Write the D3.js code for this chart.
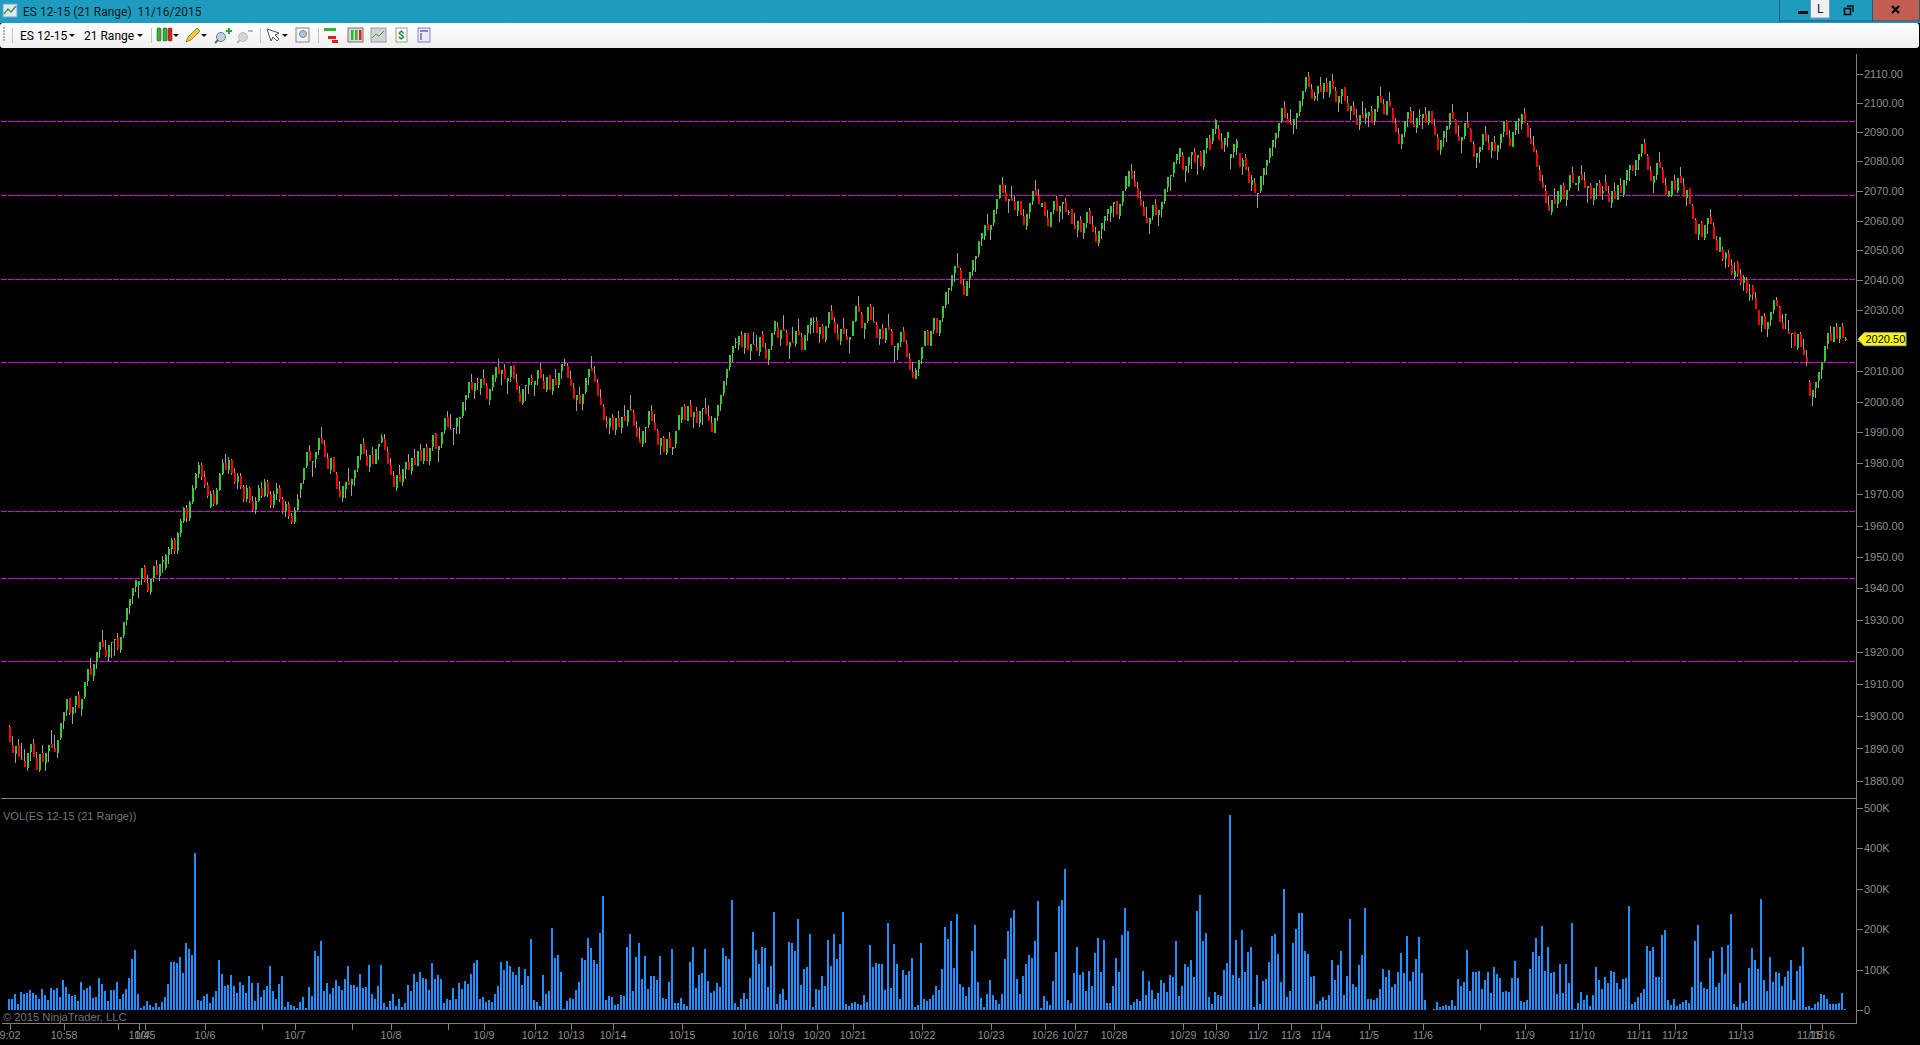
<!DOCTYPE html>
<html><head><meta charset="utf-8"><title>ES 12-15 (21 Range)</title>
<script src="https://cdn.jsdelivr.net/npm/d3@7/dist/d3.min.js"></script>
<style>html,body{margin:0;padding:0;background:#000;overflow:hidden}svg{display:block}text{white-space:pre}</style>
</head><body><svg id="c" width="1920" height="1045"></svg>
<script>
const priceTicks=[2110,2100,2090,2080,2070,2060,2050,2040,2030,2020,2010,2000,1990,1980,1970,1960,1950,1940,1930,1920,1910,1900,1890,1880];
const volTicks=[0,100,200,300,400,500];
const levels=[2093.7,2068.5,2040.4,2012.9,1964.7,1943.2,1917.1];
const lastPrice=2020.5;
const dateTickBars=[0,18,36,43,45,65,84,95,114,127,146,158,175,187,201,224,245,257,269,281,304,327,345,355,368,391,402,416,427,437,453,471,490,505,524,543,555,577,600,604];
const dateTickLabels=["9:02","10:58","","10/4","10/5","10/6","","10/7","","10/8","","10/9","10/12","10/13","10/14","10/15","10/16","10/19","10/20","10/21","10/22","10/23","10/26","10/27","10/28","10/29","10/30","11/2","11/3","11/4","11/5","11/6","","11/9","11/10","11/11","11/12","11/13","11/15","11/16"];
const open=[
1896.6,1891.2,1888.2,1891,1886.9,1886,1884.1,1888.8,1891.3,1887.2,
1883.5,1888.5,1885.4,1889.1,1891.3,1890,1888.5,1893.2,1898.5,1901.9,
1905.6,1900.6,1903.4,1906.6,1902.2,1905.9,1910.9,1915,1912.5,1916.9,
1920.6,1923.4,1920.9,1918.4,1922.8,1923.7,1924.4,1920.6,1925.3,1930,
1934.3,1937.5,1940.3,1941.2,1943.1,1946.8,1941.8,1939,1943.4,1947.4,
1944,1948.4,1946.5,1950.5,1952.5,1955.5,1952,1957.5,1961.5,1965.5,
1962.5,1967.5,1972,1976.5,1979.5,1975.5,1973,1966,1970,1967,
1971.5,1976.5,1980,1978,1981,1977,1974,1976,1972.5,1968.5,
1972,1968,1965,1968,1972,1969.5,1974,1970,1966.5,1970,
1972,1968.5,1964.5,1967,1963,1961,1965,1971.7,1974.6,1979.1,
1984,1980.5,1981.4,1984.3,1988.2,1985.9,1981.7,1977.8,1982,1976.5,
1971.4,1968.8,1971.7,1974.3,1973,1975.2,1978.5,1982.7,1986.6,1982.4,
1978.8,1982.7,1979.8,1985.3,1986.9,1987.9,1983.7,1979.4,1975.9,1972,
1976.5,1974,1978.2,1980.4,1977.5,1981.7,1979.1,1984.3,1980.7,1985.3,
1980.7,1985.3,1989.5,1984.3,1986.2,1990.8,1995,1991.1,1991.1,1991.7,
1994.3,1995.3,2000.5,2002.7,2006.3,2003.4,2006.3,2004.4,2007.6,2005,
2000.5,2004.7,2007.6,2011.5,2008.9,2010.8,2006.9,2008.2,2012.1,2006.6,
2003,1999.5,2005,2005.3,2007.9,2005.6,2007.3,2010.8,2006.9,2003.7,
2008.6,2003.4,2007.6,2005.6,2010.2,2012.4,2011.8,2007.3,2004.4,2000.5,
2002.1,1999.2,2003.1,2008.2,2011.1,2009.2,2006,2001.1,1998.2,1993.4,
1991.7,1995,1990.8,1994.7,1991.4,1995.3,1993.4,1997.6,1996.3,1991.4,
1987.9,1986.2,1991.4,1992.4,1996.9,1993,1990.4,1985.6,1988.2,1983.3,
1988.2,1984.6,1986.2,1990.8,1994,1998.5,1993.7,1998.9,1995,1996.9,
1993,1997.6,1997.9,1995.3,1993,1989.8,1995.3,1999.2,2002.7,2007.6,
2011.5,2016,2019.2,2018.6,2021.8,2017.6,2022.4,2016.6,2018.9,2017.9,
2016.3,2022.1,2017.3,2013.7,2018.1,2023.1,2024.5,2020.5,2023.8,2022.5,
2017.8,2019.8,2018.8,2023.1,2021.1,2016.8,2022.5,2025.1,2026.1,2026.5,
2022.1,2024.8,2020.1,2025.5,2029.8,2026.1,2022.1,2019.8,2024.1,2021.5,
2020.1,2021.5,2026.5,2031.4,2028.8,2023.8,2026.5,2031.4,2026.5,2025.1,
2020.5,2024.1,2020.1,2024.5,2023.1,2017.8,2017.1,2019.5,2023.1,2018.8,
2014.1,2009.8,2007.5,2010.8,2014.1,2018.1,2023.1,2018.1,2023.5,2027.5,
2022.5,2027.5,2031.8,2036.8,2038.1,2042.4,2044.8,2043.4,2038.1,2034.8,
2040.4,2043.1,2047.1,2048.8,2053.8,2054.8,2058.8,2056.8,2059.1,2063.8,
2067.7,2072.4,2069.1,2066.4,2067.7,2066.1,2063.1,2066.7,2061.4,2058.1,
2062.8,2066.4,2070.4,2068.1,2064.4,2066.1,2060.8,2057.8,2063.4,2067.1,
2062.8,2065.4,2066.4,2062.4,2063.8,2058.4,2056.8,2060.1,2055.8,2059.1,
2063.1,2058.4,2055.4,2052.4,2057.1,2059.8,2062.1,2062.4,2065.4,2066.4,
2061.4,2066.1,2070.7,2071.7,2076.7,2073.4,2071.1,2067.1,2064.4,2060.8,
2058.8,2061.4,2065.4,2061.8,2063.8,2066.7,2071.4,2075.1,2076.1,2080.4,
2081.5,2082,2076.7,2078.7,2082,2083,2081,2083,2078,2084.5,
2088,2087,2091,2091,2087,2085.5,2088,2081,2083,2084.5,
2082.7,2077.9,2081,2076.6,2072.1,2072.8,2069.1,2069.8,2075.2,2078.3,
2081,2084.7,2087.5,2090.2,2093.6,2098.4,2094.5,2093.1,2092.2,2094.6,
2096.7,2101.4,2104.8,2109.3,2104.8,2101.1,2102.8,2105.8,2103.5,2106.9,
2103.1,2107.5,2104.1,2099.7,2102.4,2105.2,2099.7,2097,2099,2094.9,
2092.2,2096,2094.9,2095.3,2097,2093.6,2098,2102.1,2099.4,2095.6,
2100.7,2097.7,2092.6,2089.2,2085.8,2089.8,2094.3,2097,2092.6,2091.2,
2095.3,2094.9,2096.3,2092.9,2097.3,2091.9,2088.1,2083.7,2087.8,2090.5,
2092.2,2096.7,2093.9,2088.5,2086.8,2088.5,2093.2,2090.9,2085.8,2081,
2083,2085.4,2089.5,2086.1,2083.4,2086.4,2083,2086.1,2089.8,2093.6,
2088.1,2084.7,2090.5,2093.6,2092.6,2096.3,2092.2,2087.5,2085.4,2082.7,
2077.2,2072.8,2070.1,2065.3,2062.9,2067.4,2065.7,2067,2072.1,2067,
2071.1,2075.9,2071.8,2072.5,2075.2,2073.2,2070.8,2071.8,2067,2071.5,
2072.8,2069.1,2072.5,2069.4,2066,2070.1,2067,2072.1,2068.7,2073.8,
2077.2,2078.9,2076.9,2080.6,2082.7,2086.1,2081.7,2076.6,2072.8,2075.2,
2079.6,2076.9,2072.1,2068.4,2068.7,2073.5,2070.1,2074.9,2071.8,2067.7,
2070.8,2065,2060.1,2055.1,2059.1,2054.1,2058.8,2061.1,2058.1,2053.4,
2049.4,2050,2047,2049,2045,2041,2046,2042,2039,2040,
2034.5,2038,2034,2030.2,2025.3,2028.3,2024,2027,2030.2,2033.5,
2031.2,2025.7,2028.6,2023,2022.1,2023,2017.5,2022.1,2017.2,2014.6,
2006.4,2001.5,2004.4,2006.7,2010.3,2013.3,2018.8,2022.7,2019.5,2024.4,
2020.4,2024.7,2020.25];
const high=[
1897.2,1893.8,1890.7,1892.8,1891.6,1889.7,1888.5,1891.3,1892.8,1888.8,
1888.2,1891,1888.5,1891,1895.6,1894.1,1892.5,1897.8,1901.3,1905.3,
1905.6,1902.8,1906.3,1907.8,1905.3,1910.6,1914.7,1918.1,1916.2,1920,
1923.1,1926.8,1923.7,1922.2,1923.1,1924,1925.9,1924.7,1929.3,1933.7,
1936.8,1940,1942.8,1942.4,1946.5,1947.4,1944.3,1943.1,1947.1,1949,
1947.8,1950.2,1951,1953,1956,1956,1958,1962,1966,1966.5,
1968,1973,1977,1980.5,1980,1977.5,1974,1971,1971.5,1972,
1977,1981.5,1983,1982,1981.5,1978.5,1977,1977,1973,1973,
1972.5,1969.5,1969,1973,1974,1975,1974.5,1971,1971,1973.5,
1973,1969,1968,1967.5,1964,1966,1970,1973.8,1978.5,1983.7,
1985.9,1980.7,1983.7,1988.2,1991.7,1987.5,1983.3,1981.7,1982,1977.2,
1974.3,1972.7,1974,1978.5,1974.9,1977.8,1982.4,1986.2,1988.2,1984.3,
1982.7,1985.3,1984.6,1986.2,1989.5,1989.5,1985.3,1981.7,1977.5,1976.2,
1979.4,1978.2,1980.4,1983,1981.7,1984.6,1984,1986.2,1984.9,1986.2,
1984.9,1989.2,1989.8,1985.6,1990.1,1994.7,1996.9,1995.9,1991.4,1994.7,
1995,1999.8,2002.1,2006.3,2008.9,2006,2007.6,2007.3,2010.8,2006,
2004,2008.6,2011.5,2014,2010.5,2012.4,2007.6,2011.8,2012.1,2008.9,
2005,2004,2005.3,2007.6,2008.6,2006.9,2010.5,2012.8,2009.2,2008.2,
2008.6,2007.3,2010.8,2009.5,2012.4,2014,2012.8,2010.2,2006,2002.1,
2004.7,2002.4,2007.6,2010.8,2015,2011.8,2007.3,2004,1999.2,1995.3,
1994.7,1995.9,1994.7,1996.9,1995,1998.9,1997.2,2002.1,1997.2,1993.7,
1991.7,1990.4,1991.7,1996.9,1998.9,1995.9,1991.1,1988.2,1988.8,1987.9,
1990.1,1985.3,1990.4,1995.6,1998.2,1999.2,1998.5,2000.5,1996.6,1998.2,
1996.9,1997.9,2001.1,1998.9,1995.3,1994.7,1998.9,2002.1,2006.9,2010.8,
2015.3,2018.3,2021,2021.5,2023.1,2022.5,2022.4,2018.9,2022.9,2021.8,
2021.3,2023.1,2019.2,2017.3,2022.5,2026.5,2026.1,2023.5,2028.5,2023.5,
2019.5,2024.5,2023.1,2027.1,2022.5,2021.8,2025.1,2027.5,2027.8,2027.8,
2024.5,2025.5,2024.8,2029.4,2031.8,2027.8,2025.5,2023.8,2027.5,2023.8,
2021.1,2026.5,2031.4,2034.8,2029.5,2025.8,2031.1,2032.1,2031.1,2026.1,
2023.8,2025.5,2024.1,2028.8,2023.8,2018.1,2019.1,2022.8,2024.5,2020.1,
2015.8,2013.1,2011.1,2013.8,2017.8,2023.1,2023.5,2023.1,2027.5,2027.5,
2026.8,2031.4,2036.1,2037.4,2041.8,2044.8,2049.1,2044.1,2040.4,2039.8,
2042.8,2046.8,2048.1,2053.1,2055.8,2058.4,2062.1,2058.4,2063.4,2067.1,
2072.1,2074.7,2072.1,2067.4,2071.7,2068.4,2066.4,2066.7,2063.8,2062.1,
2065.8,2070.1,2073.7,2070.7,2065.8,2066.1,2063.4,2062.8,2066.7,2068.4,
2064.8,2066.1,2067.7,2063.4,2063.8,2062.4,2059.8,2061.4,2059.1,2062.8,
2064.1,2061.4,2057.8,2056.4,2059.1,2061.4,2063.8,2064.8,2066.1,2066.4,
2065.4,2070.1,2075.1,2076.7,2079.1,2076.7,2073.1,2070.1,2066.4,2064.4,
2060.8,2065.1,2067.1,2063.4,2066.1,2070.7,2074.7,2075.4,2079.7,2082.6,
2084.5,2083,2078.4,2081.5,2083,2084.6,2082,2083.6,2084,2088,
2089,2091,2094.5,2092.5,2089.5,2088,2090,2082.6,2086,2087.5,
2082.7,2081,2082.4,2077.9,2075.2,2074.2,2069.4,2074.9,2077.6,2080.6,
2084.4,2087.1,2089.5,2092.9,2098,2100.4,2096.3,2097.7,2094.3,2096.3,
2100.7,2104.1,2108.9,2110.6,2106.5,2103.8,2105.8,2108.9,2106.9,2108.6,
2107.5,2109.9,2105.2,2102.1,2104.8,2105.2,2102.4,2098.7,2100.7,2097.7,
2095.6,2100.4,2098,2096.7,2098.7,2097.7,2102.1,2105.2,2101.1,2100.4,
2103.5,2098,2094.9,2091.2,2089.2,2093.6,2096.7,2098.4,2097,2094.6,
2097.7,2096,2098.4,2097,2097.3,2094.3,2089.2,2087.1,2090.2,2091.9,
2096.3,2099.4,2094.3,2092.2,2088.1,2092.9,2096.7,2091.2,2086.8,2082.7,
2084.7,2089.2,2091.9,2088.8,2086.4,2088.5,2085.4,2089.2,2093.6,2093.9,
2090.5,2089.8,2093.6,2094.6,2096,2098,2093.2,2091.2,2088.5,2083.7,
2078.6,2075.5,2071.8,2068.4,2067,2071.1,2069.8,2071.8,2072.5,2070.4,
2075.5,2077.9,2072.5,2074.9,2078.9,2076.2,2071.5,2072.5,2070.8,2072.8,
2073.8,2071.5,2075.2,2071.5,2069.8,2072.5,2071.8,2074.2,2073.5,2076.9,
2078.6,2078.9,2080.3,2082.4,2085.8,2087.5,2082.4,2078.3,2074.9,2079.3,
2083,2077.9,2074.5,2070.1,2073.2,2075.5,2074.5,2077.9,2074.5,2070.4,
2070.8,2065.7,2060.8,2058.8,2059.8,2058.5,2060.8,2063.8,2059.1,2054.8,
2054.4,2051,2049.5,2050,2047,2046,2046.5,2043.7,2041.7,2041,
2038.7,2038.5,2036,2030.2,2028.3,2029.3,2026.3,2029.6,2033.5,2034.6,
2031.5,2028.9,2028.9,2027,2022.7,2023,2022.1,2023,2020.4,2016.9,
2007.1,2003.8,2006.4,2009.7,2012.9,2018.2,2022.4,2025,2024.4,2025.7,
2024.4,2026,2021.1];
const low=[
1892,1888.5,1885.4,1887.5,1886.3,1884.4,1883.2,1886,1887.5,1883.5,
1882.9,1885.7,1883.2,1885.7,1890.3,1888.8,1887.2,1892.5,1896,1900,
1900.3,1897.5,1901,1902.5,1900,1905.3,1909.4,1912.8,1910.9,1914.7,
1918.1,1921.5,1918.4,1917.2,1918.1,1918.7,1920.6,1919.7,1924.4,1928.4,
1931.8,1935,1939,1937.1,1941.2,1942.1,1939,1937.8,1942.1,1944.3,
1942.4,1944.9,1945.8,1947.8,1951,1951,1951,1956.5,1960.7,1961.2,
1961.5,1967,1971.5,1975.2,1974.7,1972.2,1968.7,1965.7,1966.2,1966.7,
1971,1976.2,1977.7,1976.7,1976.2,1973.2,1971.7,1971.7,1967.7,1967.7,
1967.2,1964.2,1963.7,1967.7,1968.7,1969.2,1969.2,1965.7,1965.7,1968.2,
1967.7,1963.7,1962.7,1962.2,1960.5,1960.5,1964.5,1968.8,1973.3,1978.5,
1980.7,1975.6,1978.5,1982.7,1986.2,1982,1978.2,1976.5,1977.2,1971.7,
1969.1,1967.5,1968.8,1973,1969.4,1972.7,1977.2,1981,1983,1979.1,
1977.2,1979.8,1979.8,1981,1986.6,1984.3,1979.8,1976.2,1972.3,1971,
1974,1972.7,1974.9,1977.8,1976.2,1979.4,1979.1,1980.7,1979.8,1980.7,
1979.4,1984,1984.6,1980.4,1985,1989.5,1991.7,1990.8,1985.9,1989.5,
1989.5,1994.7,1996.9,2001.1,2003.7,2000.8,2003.7,2002.1,2005.6,2000.8,
1998.9,2003.4,2006.3,2008.9,2005.3,2007.3,2002.4,2006.6,2007.3,2003.7,
1999.8,1998.9,2000.1,2002.4,2005.6,2001.8,2005.3,2007.6,2004,2003.1,
2003.7,2002.1,2005.6,2004.4,2007.3,2011.8,2007.6,2005,2000.8,1996.9,
1999.2,1997.2,2002.4,2005.6,2009.9,2006.6,2001.8,1998.9,1994,1991.4,
1989.5,1990.8,1989.2,1991.7,1989.8,1993.7,1992,1996.9,1992,1988.5,
1986.6,1985.3,1986.6,1991.4,1993.7,1990.8,1985.9,1982.7,1983.7,1982.7,
1984.9,1982.7,1984.9,1990.8,1993,1994,1993.7,1995,1991.4,1993,
1991.7,1992.4,1996,1993.7,1990.1,1989.8,1993.7,1996.9,2001.8,2005.6,
2010.2,2013.1,2017.6,2017,2017.9,2015.7,2017,2013.7,2018.6,2016.6,
2015,2017.9,2014,2012.1,2017.1,2021.8,2020.8,2018.1,2023.1,2018.1,
2014.1,2019.1,2017.8,2021.8,2017.1,2016.8,2019.8,2022.1,2022.5,2022.5,
2019.1,2020.5,2019.5,2024.1,2026.8,2022.5,2020.1,2018.5,2022.1,2020.1,
2015.8,2021.5,2026.1,2029.5,2024.1,2020.5,2025.8,2026.8,2025.8,2020.8,
2018.5,2020.5,2019.1,2023.5,2018.5,2013.1,2013.8,2017.8,2019.5,2014.8,
2010.5,2007.8,2007.5,2008.5,2012.5,2018.1,2018.5,2018.1,2022.1,2022.5,
2021.5,2026.1,2030.8,2032.1,2036.4,2039.4,2044.1,2038.8,2035.1,2034.8,
2037.4,2041.4,2042.8,2047.8,2051.4,2053.4,2056.8,2053.4,2058.1,2062.1,
2067.1,2069.4,2066.7,2062.4,2066.4,2063.4,2061.4,2061.8,2058.4,2056.8,
2060.4,2065.1,2068.4,2065.4,2064.4,2061.4,2058.1,2057.8,2062.1,2063.1,
2059.4,2060.4,2062.8,2061.8,2058.8,2057.1,2054.4,2056.1,2053.8,2057.4,
2058.8,2056.1,2052.8,2051.4,2053.8,2056.4,2059.8,2059.4,2061.1,2061.8,
2060.4,2064.8,2070.1,2071.4,2074.1,2071.4,2067.7,2064.8,2061.4,2059.1,
2055.4,2060.1,2061.8,2058.1,2061.1,2065.4,2069.7,2070.1,2074.7,2079.1,
2079,2077.1,2073,2076.1,2077.4,2079.4,2075.4,2078.4,2077,2082.8,
2083.8,2085.8,2089.2,2087.2,2084.2,2083.2,2084.8,2077.4,2081,2082,
2077.9,2075.5,2077.2,2072.5,2069.8,2069.1,2064.3,2069.4,2072.1,2075.2,
2079.3,2081.7,2084.4,2087.8,2092.9,2094.9,2093.1,2092.2,2089.2,2090.9,
2095.3,2098.7,2103.8,2105.2,2101.4,2100.4,2100.4,2103.8,2101.4,2103.5,
2101.8,2104.8,2100.1,2096.7,2099.4,2100.4,2097.3,2093.9,2095.6,2092.2,
2090.5,2094.9,2092.6,2091.5,2093.2,2092.2,2096.7,2099.7,2096,2095.6,
2098.4,2093.2,2089.8,2085.8,2084.1,2088.1,2091.5,2093.2,2091.5,2089.5,
2092.2,2090.9,2093.2,2092.2,2092.6,2088.8,2083.7,2082,2084.7,2086.4,
2090.9,2094.3,2089.2,2086.8,2082.7,2087.5,2091.2,2086.4,2081.3,2077.6,
2079.3,2083.7,2086.8,2083.7,2081,2083.4,2080.3,2084.1,2088.1,2088.8,
2085.1,2084.7,2088.8,2089.2,2090.9,2092.9,2088.1,2085.8,2083,2077.9,
2073.2,2070.8,2066,2063.3,2061.9,2065.7,2064.3,2066.3,2067.4,2065,
2069.8,2072.5,2071.8,2069.8,2073.8,2071.1,2066,2067.4,2065.3,2067.4,
2068.7,2067,2070.1,2066.3,2064.3,2067.4,2067,2069.1,2068,2072.1,
2073.2,2076.6,2074.9,2076.9,2081.3,2082.4,2077.2,2073.2,2069.4,2073.8,
2077.6,2072.8,2068.7,2067.8,2068,2070.4,2069.1,2072.5,2068,2065,
2065.7,2060.6,2055.4,2053.4,2054.4,2053.4,2055.4,2058.8,2053.8,2049.8,
2049.4,2046.5,2044,2044.5,2041.8,2040.5,2041.2,2038.5,2036.5,2035.7,
2033.2,2033.3,2030.6,2025.3,2022.8,2024,2021.1,2024.7,2028.9,2031.5,
2026.3,2024,2023.7,2022.1,2017.5,2018.2,2016.9,2017.8,2015.2,2011.6,
2001.8,1998.6,2001.2,2004.4,2007.4,2012.9,2017.2,2019.8,2019.5,2020.4,
2019.1,2020.8,2019.8];
const close=[
1892,1888.5,1890.7,1887.5,1886.3,1884.4,1888.5,1891.3,1887.5,1883.5,
1888.2,1885.7,1888.5,1891,1890.3,1888.8,1892.5,1897.8,1901.3,1905.3,
1901,1902.8,1906.3,1902.5,1905.3,1910.6,1914.7,1912.8,1916.2,1920,
1923.1,1921.5,1918.7,1922.2,1923.1,1924,1920.9,1924.7,1929.3,1933.7,
1936.8,1940,1942.8,1942.4,1946.5,1942.4,1939.3,1943.1,1947.1,1944.3,
1947.8,1949,1950.5,1952.5,1955.5,1952,1957.5,1961.5,1965.5,1962.5,
1967.5,1972,1976.5,1979.5,1975.5,1973,1969.5,1970,1967,1971.5,
1976.5,1980,1978,1981,1977,1974,1976,1972.5,1968.5,1972,
1968,1965,1968,1972,1969.5,1974,1970,1966.5,1970,1972,
1968.5,1964.5,1967,1963,1961,1965,1968.5,1973.8,1978.5,1983.7,
1980.7,1980.7,1983.7,1988.2,1986.2,1982,1978.2,1981.7,1977.2,1971.7,
1969.1,1972.7,1974,1973,1974.9,1977.8,1982.4,1986.2,1983,1979.1,
1982.7,1979.8,1984.6,1986.2,1988.5,1984.3,1979.8,1976.2,1972.3,1976.2,
1974,1978.2,1980.4,1977.8,1981.7,1979.4,1984,1980.7,1984.9,1980.7,
1984.9,1989.2,1984.6,1985.6,1990.1,1994.7,1991.7,1990.8,1991.4,1994.7,
1995,1999.8,2002.1,2006.3,2003.7,2006,2006,2007.3,2005.6,2000.8,
2004,2008.6,2011.5,2008.9,2010.5,2007.3,2007.6,2011.8,2007.3,2003.7,
1999.8,2004,2005.3,2007.6,2006.6,2006.9,2010.5,2007.6,2004,2008.2,
2003.7,2007.3,2005.6,2009.5,2012.4,2012.8,2007.6,2005,2000.8,2002.1,
1999.2,2002.4,2007.6,2010.8,2009.9,2006.6,2001.8,1998.9,1994,1992.7,
1994.7,1990.8,1994.7,1991.7,1995,1993.7,1997.2,1996.9,1992,1988.5,
1986.6,1990.4,1991.7,1996.9,1993.7,1990.8,1985.9,1988.2,1983.7,1987.9,
1984.9,1985.3,1990.4,1995.6,1998.2,1994,1998.5,1995,1996.6,1993,
1996.9,1997.9,1996,1993.7,1990.1,1994.7,1998.9,2002.1,2006.9,2010.8,
2015.3,2018.3,2019.6,2021.5,2017.9,2022.5,2017,2018.9,2018.6,2016.6,
2021.3,2017.9,2014,2017.3,2022.5,2026.5,2020.8,2023.5,2023.1,2018.1,
2019.5,2019.1,2023.1,2021.8,2017.1,2021.8,2025.1,2027.5,2026.5,2022.5,
2024.5,2020.5,2024.8,2029.4,2026.8,2022.5,2020.1,2023.8,2022.1,2020.1,
2021.1,2026.5,2031.4,2029.5,2024.1,2025.8,2031.1,2026.8,2025.8,2020.8,
2023.8,2020.5,2024.1,2023.5,2018.5,2018.1,2019.1,2022.8,2019.5,2014.8,
2010.5,2007.8,2010.5,2013.8,2017.8,2023.1,2018.5,2023.1,2027.5,2022.5,
2026.8,2031.4,2036.1,2037.4,2041.8,2044.8,2044.1,2038.8,2035.1,2039.8,
2042.8,2046.8,2048.1,2053.1,2055.8,2058.4,2056.8,2058.4,2063.4,2067.1,
2072.1,2069.4,2066.7,2067.4,2066.4,2063.4,2066.4,2061.8,2058.4,2062.1,
2065.8,2070.1,2068.4,2065.4,2065.8,2061.4,2058.1,2062.8,2066.7,2063.1,
2064.8,2066.1,2062.8,2062.8,2058.8,2057.1,2059.8,2056.1,2059.1,2062.8,
2058.8,2056.1,2052.8,2056.4,2059.1,2061.4,2063.8,2064.8,2066.1,2061.8,
2065.4,2070.1,2075.1,2076.7,2074.1,2071.4,2067.7,2064.8,2061.4,2059.1,
2060.8,2065.1,2061.8,2063.4,2066.1,2070.7,2074.7,2075.4,2079.7,2082.6,
2084.5,2077.1,2078.4,2081.5,2083,2079.4,2082,2078.4,2084,2088,
2084,2091,2094,2087.2,2084.2,2088,2090,2082.5,2086,2087,
2077.9,2080.6,2077.2,2072.5,2073.8,2069.1,2069.4,2074.9,2077.6,2080.6,
2084.4,2087.1,2089.5,2092.9,2098,2094.9,2093.1,2092.2,2094.3,2096.3,
2100.7,2104.1,2108.9,2105.2,2101.4,2102.4,2105.8,2103.8,2106.9,2103.5,
2107.5,2104.8,2100.1,2102.1,2104.8,2100.4,2097.3,2098.7,2095.6,2092.2,
2095.6,2094.9,2096.3,2096.7,2093.2,2097.7,2102.1,2099.7,2096,2100.4,
2098.4,2093.2,2089.8,2085.8,2089.2,2093.6,2096.7,2093.2,2091.5,2094.6,
2095.6,2096,2093.2,2097,2092.6,2088.8,2083.7,2087.1,2090.2,2091.9,
2096.3,2094.3,2089.2,2086.8,2088.1,2092.9,2091.2,2086.4,2081.3,2082.7,
2084.7,2089.2,2086.8,2083.7,2086.4,2083.4,2085.4,2089.2,2093.6,2088.8,
2085.1,2089.8,2093.6,2094.3,2096,2092.9,2088.1,2085.8,2083,2077.9,
2073.2,2070.8,2066,2063.3,2067,2065.7,2069.8,2071.8,2067.4,2070.4,
2075.5,2072.5,2072.5,2074.9,2073.8,2071.1,2071.5,2067.4,2070.8,2072.8,
2068.7,2069.8,2070.1,2066.3,2069.8,2067.4,2071.8,2069.1,2073.5,2076.9,
2078.6,2077.2,2080.3,2082.4,2085.8,2082.4,2077.2,2073.2,2074.9,2079.3,
2077.6,2072.8,2068.7,2070.1,2073.2,2070.4,2074.5,2072.5,2068,2070.4,
2065.7,2060.6,2055.4,2058.8,2054.4,2058.5,2060.8,2058.8,2053.8,2049.8,
2054.4,2047,2049,2045,2042,2043,2042,2039,2041,2036,
2035,2035,2030.6,2025.3,2028,2024,2026.3,2029.6,2033.5,2031.5,
2026.3,2024,2028.9,2022.1,2022.7,2018.2,2022.1,2017.8,2015.2,2012.9,
2001.8,2003.8,2006.4,2009.7,2012.9,2018.2,2022.4,2019.8,2024.4,2020.4,
2024.4,2020.8,2020.5];
const volume=[
27,27,40,15,44,40,42,49,42,37,27,52,37,25,54,49,54,32,74,57,40,35,37,22,69,49,54,59,30,32,79,64,47,22,49,49,69,27,40,52,79,126,148,40,5,10,22,12,7,17,7,20,32,64,119,119,116,131,91,165,151,136,388,25,22,35,40,17,32,47,123,89,59,62,86,59,42,69,62,42,84,67,22,67,32,49,59,109,47,27,64,84,7,20,12,10,5,20,32,5,57,35,146,133,170,47,67,40,54,74,59,49,77,109,62,62,57,89,54,57,111,40,27,59,111,17,7,22,40,10,27,
7,17,62,47,89,69,94,79,77,49,116,77,86,77,17,27,25,54,27,67,52,72,64,89,116,123,27,32,20,25,20,40,59,119,99,121,109,94,86,106,62,101,84,175,25,20,10,86,40,47,202,128,136,94,2,22,30,27,49,69,128,123,178,153,123,114,190,281,25,35,32,12,15,37,35,156,188,47,131,165,77,133,52,84,84,74,133,30,27,69,151,17,17,30,15,10,119,156,54,86,91,151,72,42,47,67,57,153,133,126,272,17,7,27,42,27,79,193,148,114,156,153,57,109,242,15,40,52,25,168,165,146,225,62,101,106,188,7,52,49,84,59,173,109,188,126,163,242,15,10,17,20,15,12,37,20,160,106,116,114,114,49,215,54,163,114,27,99,86,96,128,7,12,165,27,22,27,37,59,49,101,205,175,220,104,237,64,57,35,57,146,210,69,30,7,40,74,37,25,15,40,126,195,
227,247,77,40,84,114,136,128,170,269,5,35,22,12,72,143,257,272,348,25,17,91,156,86,94,47,96,59,141,178,94,173,17,17,59,128,94,185,252,195,12,20,27,22,96,37,72,49,27,42,74,67,44,86,81,170,35,59,114,106,123,81,244,284,170,190,32,15,44,37,35,99,116,481,86,173,79,198,94,143,156,7,86,15,72,77,119,183,188,138,69,299,32,47,165,200,240,240,146,138,81,84,15,22,32,25,37,123,74,111,146,37,84,225,64,57,111,136,252,27,27,25,30,52,101,81,99,57,64,94,141,91,183,72,94,126,180,91,25,0,0,2,20,7,10,12,10,25,10,77,59,69,148,47,94,94,96,52,74,94,42,106,89,79,44,47,44,79,121,79,22,20,25,101,143,178,133,207,96,156,91,94,40,114,42,114,67,215,2,17,44,25,37,10,37,106,74,
52,81,67,96,94,67,52,77,79,257,15,20,32,42,52,158,146,156,81,81,185,198,25,12,27,10,15,20,25,17,57,170,210,69,54,52,128,146,57,67,156,89,160,237,15,7,67,17,22,104,153,123,101,274,74,47,131,69,94,91,59,81,96,123,25,96,109,156,7,10,5,15,20,40,37,27,15,15,15,17,42,2];

const W=1920,H=1045,axisX=1856,sepY=798,bottomY=1023;
const svg=d3.select('#c');
const gray='#808080',labelGray='#8e8e8e';
const x=d3.scaleLinear().domain([0,612]).range([9.5,1845.5]);
const y=d3.scaleLog().domain([2110,1880]).range([73.5,781]);
const v=d3.scaleLinear().domain([0,500]).range([1010,807.5]);
const sy=p=>Math.round(y(p));

svg.append('rect').attr('width',W).attr('height',H).attr('fill','#000');

// price levels
svg.append('g').selectAll('line').data(levels).join('line')
 .attr('x1',1).attr('x2',axisX).attr('y1',d=>sy(d)+.5).attr('y2',d=>sy(d)+.5)
 .attr('stroke','#e000e0').attr('stroke-width',1).attr('stroke-dasharray','6,1');

// candles
const idx=d3.range(open.length);
const cg=svg.append('g').attr('shape-rendering','crispEdges');
cg.append('g').selectAll('rect').data(idx).join('rect')
 .attr('x',i=>x(i)-.5).attr('width',1).attr('y',i=>sy(high[i])).attr('height',i=>Math.max(1,sy(low[i])-sy(high[i])))
 .attr('fill','#a0a0a0');
cg.append('g').selectAll('rect').data(idx).join('rect')
 .attr('x',i=>x(i)-.5).attr('width',2)
 .attr('y',i=>sy(Math.max(open[i],close[i]))).attr('height',i=>Math.max(1,sy(Math.min(open[i],close[i]))-sy(Math.max(open[i],close[i]))))
 .attr('fill',i=>close[i]>=open[i]?'#32cd32':'#ff0000');

// volume
svg.append('g').attr('shape-rendering','crispEdges').selectAll('rect').data(volume.map((d,i)=>[i,d])).join('rect')
 .attr('x',d=>x(d[0])-1.5).attr('width',2).attr('y',d=>v(d[1])).attr('height',d=>v(0)-v(d[1])).attr('fill','#1e90ff');

// axes
function style(g,fs,anchor){
 g.select('.domain').remove();
 g.selectAll('line').attr('stroke',gray).attr('shape-rendering','crispEdges');
 g.selectAll('text').attr('fill',labelGray).attr('font-family','"Liberation Sans",Arial,sans-serif').attr('font-size',fs);
}
const ax=svg.append('g').attr('transform',`translate(${axisX},0)`).call(d3.axisRight(y).tickValues(priceTicks).tickFormat(d3.format('.2f')).tickSize(7).tickPadding(1));
style(ax,11);
const av=svg.append('g').attr('transform',`translate(${axisX},0)`).call(d3.axisRight(v).tickValues(volTicks).tickFormat(d=>d?d+'K':'0').tickSize(7).tickPadding(1));
style(av,11);
const ab=svg.append('g').attr('transform',`translate(0,${bottomY})`).call(d3.axisBottom(x).tickValues(dateTickBars).tickFormat((d,i)=>dateTickLabels[i]).tickSize(7).tickPadding(1));
style(ab,10.7);

// frame lines
const lines=[[axisX,53,axisX,bottomY],[0,sepY,axisX,sepY],[1,bottomY,axisX,bottomY]];
svg.append('g').attr('shape-rendering','crispEdges').selectAll('line').data(lines).join('line')
 .attr('x1',d=>d[0]+.5).attr('y1',d=>d[1]+.5).attr('x2',d=>d[2]+.5).attr('y2',d=>d[3]+.5).attr('stroke',gray);

// labels inside panels
svg.append('text').attr('x',3).attr('y',820).attr('fill','#757575').attr('font-family','"Liberation Sans",sans-serif').attr('font-size',11).text('VOL(ES 12-15 (21 Range))');
svg.append('text').attr('x',3).attr('y',1021).attr('fill','#757575').attr('font-family','"Liberation Sans",sans-serif').attr('font-size',11.2).text('© 2015 NinjaTrader, LLC');

// last price flag
const ly=y(lastPrice);
svg.append('path').attr('d',d3.line()([[1858,ly],[1864,ly-6.5],[1906,ly-6.5],[1906,ly+6.5],[1864,ly+6.5],[1858,ly]])).attr('fill','#ffff00').attr('stroke','#a8a8a8');
svg.append('text').attr('x',1865.5).attr('y',ly+4).attr('fill','#000').attr('font-family','"Liberation Sans",sans-serif').attr('font-size',11).text(d3.format('.2f')(lastPrice));

// window chrome
const ui=svg.append('g');
ui.append('rect').attr('width',W).attr('height',23).attr('fill','#1f9bc0');
ui.append('rect').attr('x',3).attr('y',4).attr('width',14).attr('height',13).attr('fill','#dfe8f4').attr('stroke','#7f9dc8');
ui.append('path').attr('d','M4 14L8 9L11 12L16 6').attr('fill','none').attr('stroke','#3a9b3a').attr('stroke-width',1.4);
const uiFont='Roboto,sans-serif';
ui.append('text').attr('x',23).attr('y',16).attr('fill','#0b1a22').attr('font-family',uiFont).attr('font-size',12).text('ES 12-15 (21 Range)  11/16/2015');
const defs=svg.append('defs').append('linearGradient').attr('id','tb').attr('x1',0).attr('x2',0).attr('y1',0).attr('y2',1);
defs.append('stop').attr('offset',0).attr('stop-color','#ffffff');
defs.append('stop').attr('offset',1).attr('stop-color','#eeeeee');
ui.append('rect').attr('x',0).attr('y',23).attr('width',W-1).attr('height',25).attr('rx',3).attr('fill','url(#tb)');
ui.append('text').attr('x',20).attr('y',40).attr('fill','#000').attr('font-family',uiFont).attr('font-size',12).text('ES 12-15');
ui.append('text').attr('x',84).attr('y',40).attr('fill','#000').attr('font-family',uiFont).attr('font-size',12).text('21 Range');
const carets=[72,140,176,204,285];
ui.selectAll('path.caret').data(carets).join('path').attr('class','caret').attr('d',d=>`M${d-3} 34h6l-3 3z`).attr('fill','#111');
const seps=[12,151,260,318];
ui.selectAll('line.sep').data(seps).join('line').attr('class','sep').attr('x1',d=>d+.5).attr('x2',d=>d+.5).attr('y1',28).attr('y2',43).attr('stroke','#c4c4c4');
ui.selectAll('rect.grip').data([27,30,33,36,39]).join('rect').attr('class','grip').attr('x',3).attr('y',d=>d).attr('width',2).attr('height',2).attr('fill','#b0b0b0');
// toolbar icons
[[157,'#32b432'],[163,'#32b432'],[168,'#e02020']].forEach(([a,c])=>{
 ui.append('rect').attr('x',a).attr('y',28).attr('width',4).attr('height',13).attr('rx',1).attr('fill',c).attr('stroke','#333').attr('stroke-width',.5);});
ui.append('path').attr('d','M186 42l2-5 9-9 3 3-9 9z').attr('fill','#f2c93a').attr('stroke','#7a6a20').attr('stroke-width',.7);
ui.append('circle').attr('cx',221).attr('cy',37).attr('r',4.5).attr('fill','#b9cfe6').attr('stroke','#777');
ui.append('path').attr('d','M218 40l-3 3').attr('stroke','#666').attr('stroke-width',2);
ui.append('path').attr('d','M226 31h6M229 28v6').attr('stroke','#1fae2a').attr('stroke-width',2);
ui.append('circle').attr('cx',243).attr('cy',37).attr('r',4.5).attr('fill','#d6d6d6').attr('stroke','#bbb');
ui.append('path').attr('d','M240 40l-3 3M248 31h5').attr('stroke','#bbb').attr('stroke-width',2);
ui.append('path').attr('d','M267 29l4 12 2-4 4 4 2-2-4-4 4-2z').attr('fill','#fff').attr('stroke','#555');
ui.append('rect').attr('x',296).attr('y',28).attr('width',13).attr('height',14).attr('fill','#f4f4f4').attr('stroke','#888');
ui.append('circle').attr('cx',303).attr('cy',34).attr('r',3.5).attr('fill','#a9c4e4').attr('stroke','#888');
[[325,'#32b432',28,9],[329,'#e02020',36,5],[333,'#e02020',40,3]].forEach(([a,c,t,w])=>{
 ui.append('rect').attr('x',a-1).attr('y',t).attr('width',w+3).attr('height',3).attr('fill',c);});
ui.append('rect').attr('x',348).attr('y',28).attr('width',15).attr('height',14).attr('fill','#d8d8d8').attr('stroke','#777');
[[351,'#32b432'],[355,'#32b432'],[359,'#e02020']].forEach(([a,c])=>ui.append('rect').attr('x',a).attr('y',30).attr('width',2.5).attr('height',10).attr('fill',c));
ui.append('rect').attr('x',371).attr('y',28).attr('width',15).attr('height',14).attr('fill','#d2d2d2').attr('stroke','#999');
ui.append('path').attr('d','M372 38l4-4 3 2 5-5').attr('fill','none').attr('stroke','#3aa63a');
ui.append('rect').attr('x',396).attr('y',28).attr('width',11).attr('height',14).attr('fill','#fbfbfb').attr('stroke','#999');
ui.append('text').attr('x',398).attr('y',39).attr('font-size',11).attr('font-weight','bold').attr('fill','#1f8a2a').attr('font-family',uiFont).text('$');
ui.append('rect').attr('x',418).attr('y',28).attr('width',12).attr('height',14).attr('fill','#e8ecf6').attr('stroke','#8b7fc4');
ui.append('rect').attr('x',420).attr('y',30).attr('width',8).attr('height',2).attr('fill','#6f8fd8');
ui.append('rect').attr('x',420).attr('y',33).attr('width',2).attr('height',7).attr('fill','#9d7fe0');
// window buttons
ui.append('rect').attr('x',1779.5).attr('y',-1).attr('width',93).attr('height',22).attr('fill','none').attr('stroke','#1b5f78');
ui.append('rect').attr('x',1872.5).attr('y',-1).attr('width',47).attr('height',22).attr('fill','#c25d52').attr('stroke','#1b5f78');
ui.append('rect').attr('x',1798).attr('y',11).attr('width',10).attr('height',3).attr('fill','#0a0a0a');
ui.append('rect').attr('x',1810.5).attr('y',-1).attr('width',19).attr('height',19).attr('fill','#eef1f5').attr('stroke','#7f98b8');
ui.append('text').attr('x',1817).attr('y',13).attr('font-size',12).attr('fill','#222').attr('font-family',uiFont).text('L');
ui.append('rect').attr('x',1844.5).attr('y',8.5).attr('width',6).attr('height',6).attr('fill','none').attr('stroke','#0a0a0a').attr('stroke-width',1.6);
ui.append('path').attr('d','M1847 6h6v6').attr('fill','none').attr('stroke','#0a0a0a').attr('stroke-width',1.4);
ui.append('path').attr('d','M1892 6l7 7M1899 6l-7 7').attr('stroke','#0a0a0a').attr('stroke-width',2.4);

const lens=[open.length,high.length,low.length,close.length,volume.length];
if(lens.some(n=>n!==613)) throw new Error('lengths '+lens.join(','));
</script></body></html>
